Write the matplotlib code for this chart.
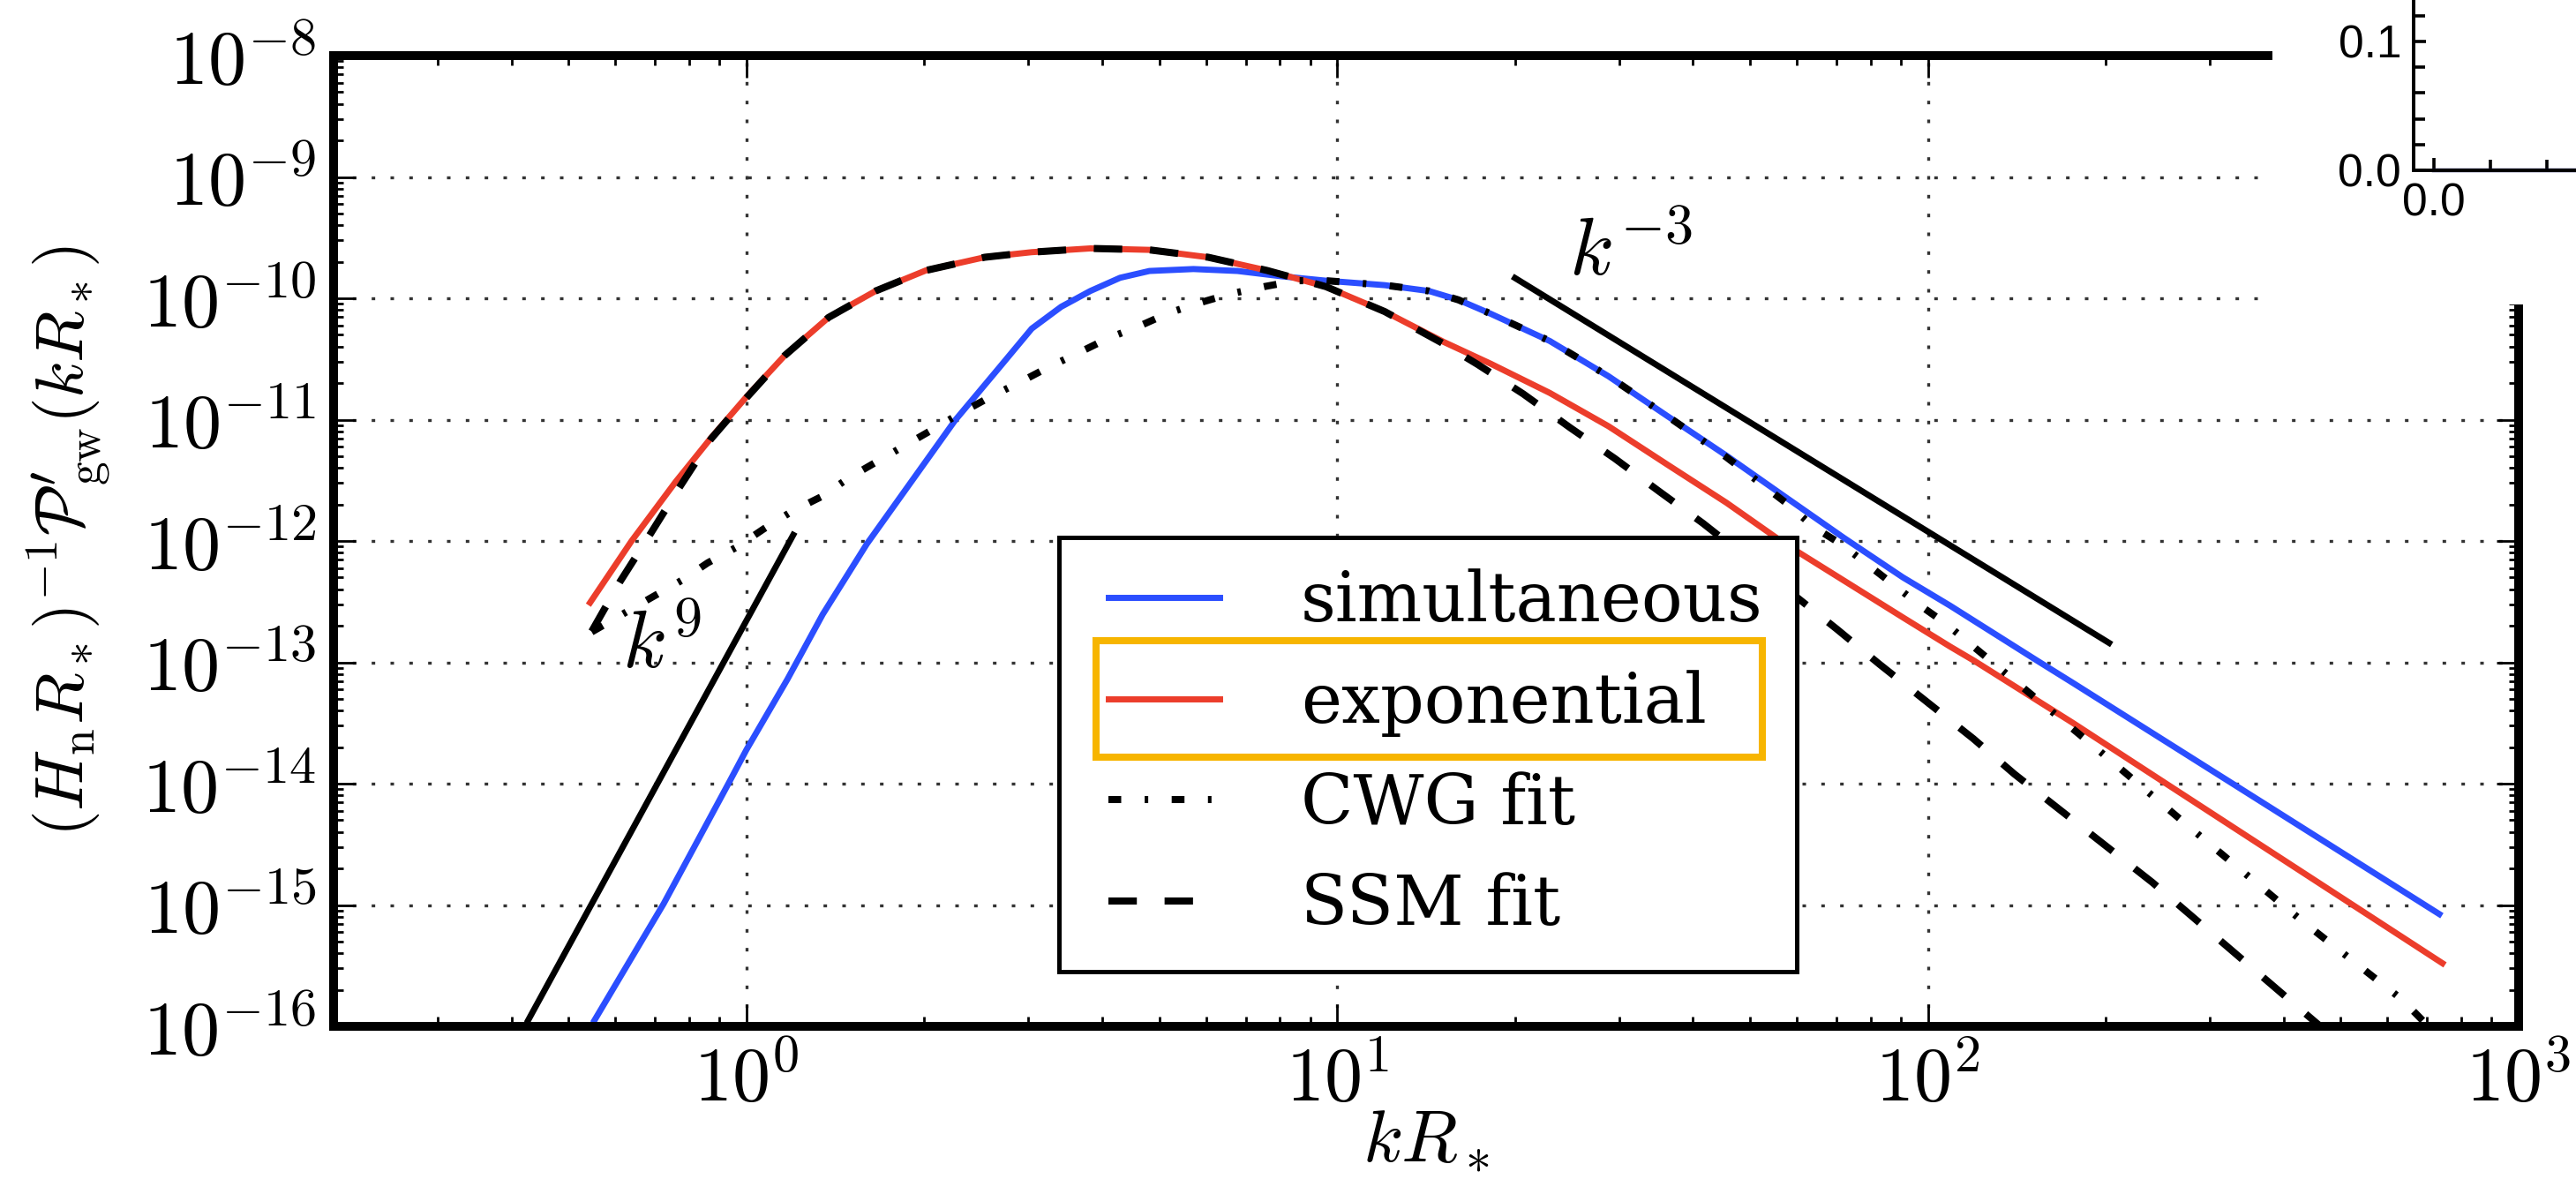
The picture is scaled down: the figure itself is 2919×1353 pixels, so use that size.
import numpy as np
import matplotlib
matplotlib.use("Agg")
import matplotlib.pyplot as plt
from matplotlib.patches import Rectangle
from matplotlib.ticker import LogLocator, FuncFormatter, NullFormatter, FixedLocator, MultipleLocator

# values: kR_* and log10 of the spectrum
k_sim = [0.553, 0.724, 0.932, 1.0, 1.173, 1.346, 1.599, 1.899, 2.255, 2.68, 3.04, 3.41, 3.82, 4.29,
         4.81, 5.71, 6.78, 8.06, 9.57, 12.04, 14.3, 16.04, 18.2, 22.9, 28.8, 36.2, 45.6, 57.3,
         72.1, 90.7, 109.0, 153.5, 176.0, 343.0, 734.0]
logp_sim = [-15.95, -14.99, -14.00, -13.72, -13.14, -12.605, -12.024, -11.515, -11.006, -10.57, -10.25, -10.07, -9.94, -9.831,
            -9.775, -9.759, -9.775, -9.819, -9.855, -9.892, -9.94, -10.013, -10.128, -10.352, -10.643, -10.97, -11.297, -11.636,
            -11.975, -12.30, -12.533, -12.99, -13.17, -14.06, -15.075]

k_exp = [0.5436, 0.639, 0.758, 0.8704, 1.0, 1.16, 1.377, 1.654, 2.011, 2.53, 3.04, 3.82, 4.81,
         6.05, 7.61, 9.57, 12.04, 15.15, 18.2, 22.9, 28.8, 36.2, 45.6, 57.3, 72.1, 90.7, 109.0,
         120.0, 176.0, 256.8, 743.0]
logp_exp = [-12.508, -12.0, -11.515, -11.152, -10.812, -10.473, -10.158, -9.94, -9.771, -9.662, -9.62, -9.589, -9.601,
            -9.662, -9.771, -9.904, -10.11, -10.36, -10.54, -10.78, -11.055, -11.37, -11.685, -12.024, -12.327, -12.63, -12.87,
            -12.99, -13.5, -14.02, -15.48]

k_cwg = [0.547, 0.694, 0.776, 0.860, 0.965, 1.07, 1.193, 1.338, 1.492, 1.664, 1.856, 2.07, 2.307, 2.588,
         2.904, 3.24, 3.65, 4.10, 4.62, 5.18, 5.85, 6.59, 7.52, 8.53, 9.57, 12.04, 14.3, 16.04,
         18.2, 22.9, 28.8, 36.2, 45.6, 57.3, 64.3, 71.2, 79.0, 87.6, 97.1, 107.0, 194.0, 287.0,
         429.5, 635.0, 720.0]
logp_cwg = [-12.75, -12.46, -12.326, -12.18, -12.048, -11.90, -11.757, -11.636, -11.479, -11.345, -11.212, -11.079, -10.945, -10.812,
            -10.691, -10.57, -10.449, -10.328, -10.23, -10.122, -10.037, -9.964, -9.904, -9.855, -9.855, -9.892, -9.94, -10.013,
            -10.128, -10.352, -10.643, -10.97, -11.31, -11.68, -11.89, -12.024, -12.193, -12.363, -12.533, -12.678, -13.72, -14.42,
            -15.13, -15.78, -16.05]

k_ssm = [0.547, 0.61, 0.688, 0.772, 0.8704, 1.0, 1.16, 1.377, 1.654, 2.011, 2.53, 3.04, 3.82, 4.81,
         6.05, 7.61, 9.57, 12.04, 15.15, 17.3, 20.65, 24.8, 29.5, 35.0, 41.6, 60.7, 70.1, 82.8,
         119.4, 140.0, 240.0, 449.0, 480.0]
logp_ssm = [-12.745, -12.34, -11.94, -11.55, -11.16, -10.82, -10.473, -10.158, -9.94, -9.771, -9.662, -9.62, -9.589, -9.601,
            -9.662, -9.771, -9.904, -10.11, -10.376, -10.546, -10.788, -11.067, -11.32, -11.588, -11.854, -12.484, -12.726, -13.016,
            -13.63, -13.92, -14.815, -15.95, -16.07]

# power-law guide lines
k_k9 = [0.427, 1.2]
logp_k9 = [-15.95, -11.95]
k_km3 = [20.0, 202.6]
logp_km3 = [-9.833, -12.84]

labels = ["simultaneous", "exponential", "CWG fit", "SSM fit"]

# piece of the pasted inset in the top right corner
inset_x = [0.0, 0.8]
inset_y = [0.0, 0.0]

plt.rcParams['mathtext.fontset'] = 'cm'
plt.rcParams['font.family'] = ['DejaVu Serif']

W, H = 2919, 1353
fig = plt.figure(figsize=(W / 200, H / 200), dpi=200)
ax = fig.add_axes([378 / W, 1 - 1163 / H, (2854 - 378) / W, (1163 - 63) / H])

lw = 2.5
ax.plot(k_sim, np.power(10.0, logp_sim), color='#2b4eff', lw=lw, label=labels[0])
ax.plot(k_exp, np.power(10.0, logp_exp), color='#ec3d2b', lw=lw, label=labels[1])
ax.plot(k_cwg, np.power(10.0, logp_cwg), color='k', lw=2.9, dashes=(1.8, 3.3, 0.5, 3.3), label=labels[2])
ax.plot(k_ssm, np.power(10.0, logp_ssm), color='k', lw=2.9, dashes=(4.0, 3.9), label=labels[3])
ax.plot(k_k9, np.power(10.0, logp_k9), color='k', lw=lw)
ax.plot(k_km3, np.power(10.0, logp_km3), color='k', lw=lw)

ax.text(0.72, 10 ** -12.86, r'$k^9$', fontsize=33, ha='center', va='center')
ax.text(31.4, 10 ** -9.63, r'$k^{-3}$', fontsize=33, ha='center', va='center')

ax.set_xscale('log')
ax.set_yscale('log')
ax.set_xlim(0.2, 1000)
ax.set_ylim(1e-16, 1e-8)

pow_fmt = FuncFormatter(lambda v, pos: r'$10^{%d}$' % int(round(np.log10(v))))
ax.xaxis.set_major_locator(LogLocator(base=10, numticks=20))
ax.yaxis.set_major_locator(LogLocator(base=10, numticks=20))
ax.xaxis.set_minor_locator(LogLocator(base=10, subs=np.arange(2, 10), numticks=40))
ax.yaxis.set_minor_locator(LogLocator(base=10, subs=np.arange(2, 10), numticks=40))
ax.xaxis.set_major_formatter(pow_fmt)
ax.yaxis.set_major_formatter(pow_fmt)
ax.xaxis.set_minor_formatter(NullFormatter())
ax.yaxis.set_minor_formatter(NullFormatter())

ax.tick_params(which='both', direction='in', top=True, right=True, labelsize=31, width=1.0)
ax.tick_params(which='major', length=9, pad=7)
ax.tick_params(which='minor', length=4)
for s in ax.spines.values():
    s.set_linewidth(3.6)

ax.grid(True, which='major', color='0.2', lw=1.2, linestyle=(0, (1.2, 5.2)))

ax.set_xlabel(r'$kR_*$', fontsize=30)
ax.set_ylabel(r'$(H_{\rm n}R_*)^{-1}\mathcal{P}^{\prime}_{\rm gw}(kR_*)$', fontsize=28.5)
ax.xaxis.set_label_coords(0.5, -0.08)
ax.yaxis.set_label_coords(-0.101, 0.5)

leg_fs = 28
leg = ax.legend(loc='upper left', bbox_to_anchor=(0.3546, 0.4845), borderaxespad=0, borderpad=0,
                fontsize=leg_fs, handlelength=1.62, handletextpad=1.18, labelspacing=0.5,
                frameon=False)
leg.set_zorder(5)

fig.canvas.draw()
r = fig.canvas.get_renderer()

# the y label in the picture runs from about y=279 to y=949 px, right edge near x=127 px
yl = ax.yaxis.label
bb = yl.get_window_extent(r)
yl.set_fontsize(28.5 * 670.0 / bb.height)
fig.canvas.draw()
bb = yl.get_window_extent(r)
ax.yaxis.set_label_coords(-0.101 + (127 - bb.x1) / ax.bbox.width, 0.5)

# nudge the legend so the first handle sits where it is in the picture
hb = leg.legend_handles[0].get_window_extent(r)
dx = 1256 - hb.x0
dy = (H - 677) - 0.5 * (hb.y0 + hb.y1)
leg.set_bbox_to_anchor((0.3546 + dx / ax.bbox.width, 0.4845 + dy / ax.bbox.height))
fig.canvas.draw()

hbs = [h.get_window_extent(r) for h in leg.legend_handles]
tbs = [t.get_window_extent(r) for t in leg.get_texts()]
to_ax = ax.transAxes.inverted()


def ax_rect(x0, y0, x1, y1, **kw):
    (a0, b0), (a1, b1) = to_ax.transform([(x0, y0), (x1, y1)])
    return Rectangle((a0, b0), a1 - a0, b1 - b0, transform=ax.transAxes, **kw)


c0 = 0.5 * (hbs[0].y0 + hbs[0].y1)
c1 = 0.5 * (hbs[1].y0 + hbs[1].y1)
c3 = 0.5 * (hbs[3].y0 + hbs[3].y1)
ax.add_patch(ax_rect(hbs[0].x0 - 56, c3 - 80, max(t.x1 for t in tbs) + 38, c0 + 68,
                     facecolor='white', edgecolor='k', lw=1.8, zorder=4.8))
ax.add_patch(ax_rect(hbs[1].x0 - 14, c1 - 66, tbs[1].x1 + 63, c1 + 66,
                     facecolor='none', edgecolor='#f7b500', lw=2.9, zorder=5.2))

# white paste covering the top right corner, with the cut-off inset plot
fig.add_artist(Rectangle((2575 / W, 1 - 345 / H), 1, 1, transform=fig.transFigure,
                         facecolor='white', edgecolor='none', zorder=5))
axi = fig.add_axes([2735 / W, 1 - 193 / H, 0.1, 0.2], zorder=6)
axi.patch.set_alpha(0)
axi.plot(inset_x, inset_y, color='#2a2a78', lw=1.6, clip_on=False)
axi.set_xlim(-0.0719, 0.840)
axi.set_ylim(0, 0.1853)
axi.spines['top'].set_visible(False)
axi.spines['right'].set_visible(False)
for s in ('left', 'bottom'):
    axi.spines[s].set_linewidth(1.4)
axi.xaxis.set_major_locator(FixedLocator([0.0]))
axi.xaxis.set_minor_locator(MultipleLocator(0.2))
axi.yaxis.set_major_locator(FixedLocator([0.0, 0.1]))
axi.yaxis.set_minor_locator(MultipleLocator(0.02))
axi.xaxis.set_major_formatter(FuncFormatter(lambda v, pos: '%.1f' % v))
axi.yaxis.set_major_formatter(FuncFormatter(lambda v, pos: '%.1f' % v))
axi.tick_params(which='both', direction='in', width=1.3, labelsize=18.5, pad=5)
axi.tick_params(which='major', length=5)
axi.tick_params(which='minor', length=4.5)
for t in axi.get_xticklabels() + axi.get_yticklabels():
    t.set_family('Liberation Sans')

fig.savefig('out.png', dpi=200)
